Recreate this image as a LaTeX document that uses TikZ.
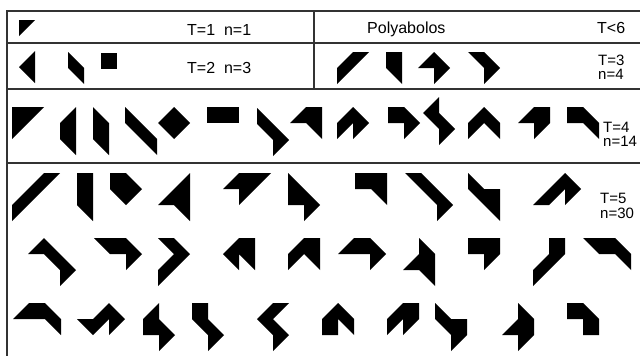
\documentclass[tikz,border=0pt]{standalone}
\usepackage{fontspec}
\setmainfont{Liberation Sans}
\begin{document}
\begin{tikzpicture}[x=1pt,y=-1pt,
  rule/.style={draw=black!80,line width=1.3pt},
  pab/.style={fill=black,scale=16},
  lbl/.style={anchor=base west,inner sep=0pt,font=\fontsize{15}{15}\selectfont},
  biglbl/.style={lbl,font=\fontsize{16}{16}\selectfont}]
\newcommand\pab[2]{\fill[shift={#1},pab] #2 -- cycle;}
\useasboundingbox (0,0) rectangle (640,356);
\fill[white] (0,0) rectangle (640,356);

% table rules
\draw[rule] (7,11) -- (640,11);
\draw[rule] (7,43) -- (640,43);
\draw[rule] (7,89) -- (640,89);
\draw[rule] (7,163) -- (640,163);
\draw[rule] (7,10.35) -- (7,356);
\draw[rule] (314,11) -- (314,89);

% labels
\node[biglbl] (t1) at (187,35) {T=1\ \ n=1};
\node[biglbl] (t2) at (187,73) {T=2\ \ n=3};
\node[biglbl] (title) at (367,33) {Polyabolos};
\node[biglbl] (lim) at (597,33) {T<6};
\node[lbl] (t3a) at (598,65) {T=3};
\node[lbl] (t3b) at (598,79) {n=4};
\node[lbl] (t4a) at (603,132) {T=4};
\node[lbl] (t4b) at (603,146) {n=14};
\node[lbl] (t5a) at (600,203) {T=5};
\node[lbl] (t5b) at (600,218) {n=30};

% T=1
\pab{(19,20)}{(0,0)--(1,0)--(0,1)}
% T=2
\pab{(19,51)}{(1,0)--(1,2)--(0,1)}
\pab{(68,52)}{(0,0)--(1,1)--(1,2)--(0,1)}
\pab{(101,53)}{(0,0)--(1,0)--(1,1)--(0,1)}
% T=3
\pab{(337,52)}{(1,0)--(2,0)--(0,2)--(0,1)}
\pab{(386,52)}{(0,0)--(1,0)--(1,2)--(0,1)}
\pab{(418,52)}{(1,0)--(2,1)--(1,2)--(1,1)--(0,1)}
\pab{(468,52)}{(0,0)--(1,0)--(2,1)--(1,2)--(1,1)}
% T=4
\pab{(12,107)}{(0,0)--(2,0)--(0,2)}
\pab{(60,107)}{(1,0)--(0,1)--(0,2)--(1,3)}
\pab{(93,107)}{(0,0)--(1,1)--(1,3)--(0,2)}
\pab{(125,107)}{(0,0)--(0,1)--(2,3)--(2,2)}
\pab{(158,107)}{(1,0)--(2,1)--(1,2)--(0,1)}
\pab{(207,107)}{(0,0)--(2,0)--(2,1)--(0,1)}
\pab{(257,108)}{(0,0)--(0,1)--(1,2)--(1,3)--(2,2)}
\pab{(290,107)}{(1,0)--(2,0)--(2,2)--(1,1)--(0,1)}
\pab{(337,107)}{(1,0)--(2,1)--(1,2)--(1,1)--(0,2)--(0,1)}
\pab{(388,107)}{(0,0)--(1,0)--(2,1)--(1,2)--(1,1)--(0,1)}
\pab{(423,97)}{(1,0)--(0,1)--(1,2)--(1,3)--(2,2)--(1,1)}
\pab{(468,107)}{(1,0)--(2,1)--(2,2)--(1,1)--(0,2)--(0,1)}
\pab{(518,107)}{(1,0)--(2,0)--(2,1)--(1,2)--(1,1)--(0,1)}
\pab{(567,107)}{(0,0)--(1,0)--(2,1)--(2,2)--(1,1)--(0,1)}
% T=5, first line
\pab{(12,173)}{(2,0)--(3,0)--(0,3)--(0,2)}
\pab{(77,173)}{(0,0)--(1,0)--(1,3)--(0,2)}
\pab{(110,173)}{(0,0)--(1,0)--(2,1)--(1,2)--(0,1)}
\pab{(158,173)}{(2,0)--(2,3)--(1,2)--(0,2)}
\pab{(223,173)}{(1,0)--(3,0)--(1,2)--(1,1)--(0,1)}
\pab{(288,173)}{(0,0)--(0,2)--(1,2)--(1,3)--(2,2)}
\pab{(355,173)}{(0,0)--(2,0)--(2,2)--(1,1)--(0,1)}
\pab{(405,173)}{(0,0)--(1,0)--(3,2)--(2,3)--(2,2)}
\pab{(468,173)}{(0,0)--(0,1)--(2,3)--(2,1)--(1,1)}
\pab{(533,173)}{(0,2)--(2,0)--(3,1)--(2,2)--(2,1)--(1,2)}
% T=5, second line
\pab{(28,238)}{(1,0)--(0,1)--(1,1)--(2,2)--(2,3)--(3,2)}
\pab{(94,238)}{(0,0)--(2,0)--(3,1)--(2,2)--(2,1)--(1,1)}
\pab{(158,238)}{(0,0)--(1,0)--(2,1)--(0,3)--(0,2)--(1,1)}
\pab{(223,238)}{(1,0)--(2,0)--(2,2)--(1,1)--(1,2)--(0,1)}
\pab{(288,238)}{(1,0)--(2,0)--(2,2)--(1,1)--(0,2)--(0,1)}
\pab{(338,238)}{(1,0)--(2,0)--(3,1)--(2,2)--(2,1)--(0,1)}
\pab{(403,238)}{(1,0)--(2,1)--(2,3)--(1,2)--(0,2)--(1,1)}
\pab{(468,238)}{(0,0)--(2,0)--(2,1)--(1,2)--(1,1)--(0,1)}
\pab{(533,238)}{(1,0)--(2,0)--(2,1)--(0,3)--(0,2)--(1,1)}
\pab{(583,238)}{(0,0)--(2,0)--(3,1)--(3,2)--(2,1)--(1,1)}
% T=5, third line
\pab{(13,303)}{(1,0)--(2,0)--(3,1)--(3,2)--(2,1)--(0,1)}
\pab{(77,303)}{(2,0)--(3,1)--(2,2)--(2,1)--(1,2)--(0,1)--(1,1)}
\pab{(143,303)}{(1,0)--(0,1)--(0,2)--(1,2)--(1,3)--(2,2)--(1,1)}
\pab{(192,303)}{(0,0)--(1,0)--(1,1)--(2,2)--(1,3)--(1,2)--(0,1)}
\pab{(257,303)}{(1,0)--(2,0)--(1,1)--(2,2)--(1,3)--(1,2)--(0,1)}
\pab{(322,303)}{(1,0)--(0,1)--(0,2)--(1,2)--(1,1)--(2,2)--(2,1)}
\pab{(387,303)}{(1,0)--(2,0)--(2,1)--(1,2)--(1,1)--(0,2)--(0,1)}
\pab{(435,303)}{(0,0)--(1,1)--(2,1)--(2,2)--(1,3)--(1,2)--(0,1)}
\pab{(502,303)}{(1,0)--(2,1)--(2,2)--(1,3)--(1,2)--(0,2)--(1,1)}
\pab{(567,303)}{(0,0)--(1,0)--(2,1)--(2,2)--(1,2)--(1,1)--(0,1)}
\end{tikzpicture}
\end{document}
